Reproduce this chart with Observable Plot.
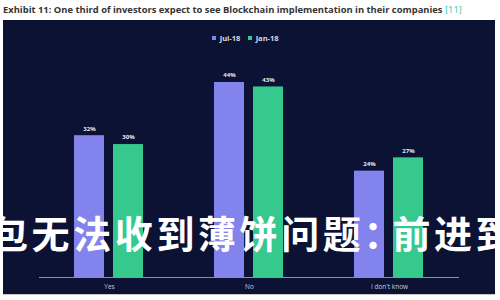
<!DOCTYPE html>
<html>
<head>
<meta charset="utf-8">
<script src="https://cdn.jsdelivr.net/npm/d3@7"></script>
<script src="https://cdn.jsdelivr.net/npm/@observablehq/plot@0.6"></script>
<style>
  html, body { margin: 0; padding: 0; background: #fff; width: 500px; height: 300px; overflow: hidden; position: relative; font-family: "Open Sans", "Noto Sans", sans-serif; }
  #title { position: absolute; left: 3px; top: 3px; font-size: 9.4px; font-weight: 700; color: #333; white-space: nowrap; }
  #title .ref { color: #3cc9a0; font-weight: 400; }
  #panel { position: absolute; left: 3px; top: 20px; width: 492px; height: 274px; background: #0b1233; box-shadow: 0 1px 0 #c8c8c8; }
  #chart { position: absolute; left: 0; top: 0; }
  #legend { position: absolute; left: 0; top: 1px; width: 492px; display: flex; justify-content: center; }
  #overlay { position: absolute; left: -10px; top: 213px; font-family: "Noto Sans CJK SC"; font-weight: 700; font-size: 38px; line-height: 38px; letter-spacing: 3.6px; color: #fff; white-space: nowrap; }
  #overlay .colon { margin-left: -1px; letter-spacing: -9px; }
</style>
</head>
<body>
<div id="title">Exhibit 11: One third of investors expect to see Blockchain implementation in their companies <span class="ref">[11]</span></div>
<div id="panel"><div id="legend"></div><div id="chart"></div></div>
<div id="overlay">包无法收到薄饼问题<span class="colon">：</span>前进到</div>
<script>
const categories = ["Yes", "No", "I don't know"];
const seriesNames = ["Jul-18", "Jan-18"];
const jul18 = [32, 44, 24];
const jan18 = [30, 43, 27];
const seriesColors = ["#8383ee", "#35c98d"];

const data = [];
categories.forEach((c, i) => {
  data.push({category: c, series: seriesNames[0], value: jul18[i]});
  data.push({category: c, series: seriesNames[1], value: jan18[i]});
});

const chart = Plot.plot({
  width: 492,
  height: 274,
  marginLeft: 35,
  marginRight: 35,
  marginTop: 62,
  marginBottom: 17,
  style: {background: "transparent", color: "#d0d3e0", fontFamily: "Open Sans, sans-serif"},
  fx: {domain: categories, padding: 0, label: null, axis: null},
  x: {domain: seriesNames, paddingInner: 0.225, paddingOuter: 0.875, axis: null},
  y: {domain: [0, 44], axis: null},
  color: {domain: seriesNames, range: seriesColors},
  marks: [
    Plot.barY(data, {fx: "category", x: "series", y: "value", fill: "series"}),
    Plot.ruleY([0], {stroke: "#8a90a8", strokeWidth: 1}),
    Plot.text(data, {fx: "category", x: "series", y: "value", text: d => d.value + "%", dy: -7, fill: "#e8e9f0", fontSize: 6, fontWeight: 700}),
    Plot.axisFx({anchor: "bottom", tickSize: 0, tickPadding: 7, fontSize: 6.5, fill: "#c8cbd8", label: null})
  ]
});
document.getElementById("chart").appendChild(chart);

const legend = Plot.legend({
  color: {domain: seriesNames, range: seriesColors},
  legend: "swatches",
  swatchSize: 4,
  style: {color: "#d8dae6", fontSize: "7.5px", fontWeight: 700, fontFamily: "Open Sans, sans-serif", background: "transparent"}
});
document.getElementById("legend").appendChild(legend);
</script>
</body>
</html>
